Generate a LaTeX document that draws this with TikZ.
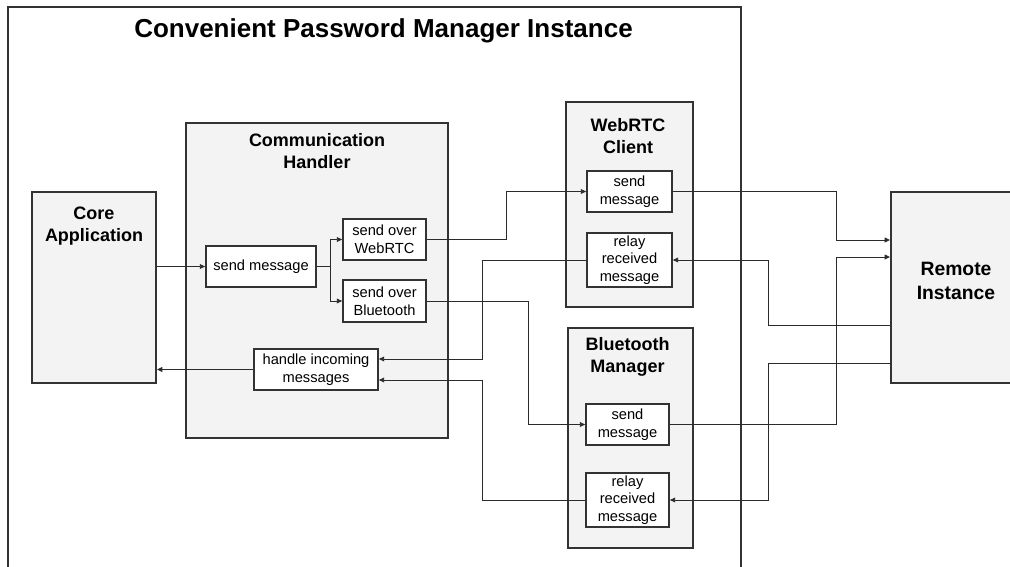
\documentclass[tikz,border=0pt]{standalone}
\usepackage{fontspec}
\setmainfont{Liberation Sans}
\usetikzlibrary{arrows.meta,calc}
\definecolor{edge}{HTML}{333333}
\definecolor{wire}{HTML}{2B2B2B}
\definecolor{panel}{HTML}{F3F3F3}
\begin{document}
\begin{tikzpicture}[x=0.75pt,y=-0.75pt,
  sz/.style 2 args={minimum width=#1*0.75pt, minimum height=#2*0.75pt},
  container/.style={draw=edge, fill=panel, line width=1.5pt, inner sep=0pt},
  stepbox/.style={draw=edge, fill=white, line width=1.3pt, inner sep=0pt,
    align=center, font=\fontsize{11}{13.3}\selectfont},
  heading/.style={font=\bfseries\fontsize{13.5}{16.5}\selectfont, align=center, inner sep=0pt},
  conn/.style={draw=wire, line width=0.7pt, -{Triangle[length=4pt,width=3.6pt]}},
]
\useasboundingbox (0,0) rectangle (1010,567);
\clip (0,0) rectangle (1010,567);

% outer instance frame (runs past the lower edge)
\node[draw=edge, line width=1.5pt, fill=white, sz={733}{600}, inner sep=0pt] (frame) at (374.5,307) {};
\node[font=\bfseries\fontsize{19.5}{22}\selectfont, inner sep=0pt] (title) at (383.5,31) {Convenient Password Manager Instance};

% core application
\node[container, sz={124}{191}] (core) at (94,287.5) {};
\node[heading] (coreT) at (94,226) {Core\\Application};

% communication handler
\node[container, sz={262}{315}] (comm) at (317,280.5) {};
\node[heading] (commT) at (317,151) {Communication\\Handler};
\node[stepbox, sz={110}{41}] (sendmsg) at (261,266.5) {send message};
\node[stepbox, sz={83}{41}] (sowebrtc) at (384.5,239.5) {send over\\WebRTC};
\node[stepbox, sz={83}{42}] (sobt) at (384.5,301) {send over\\Bluetooth};
\node[stepbox, sz={124}{41}] (handle) at (316,369.5) {handle incoming\\messages};

% WebRTC client
\node[container, sz={127}{205}] (webrtc) at (629.5,204.5) {};
\node[heading] (webrtcT) at (628,136.5) {WebRTC\\Client};
\node[stepbox, sz={85}{41}] (wsend) at (629.5,191.5) {send\\message};
\node[stepbox, sz={85}{54}] (wrelay) at (629.5,260) {relay\\received\\message};

% Bluetooth manager
\node[container, sz={125}{220}] (bt) at (630.5,438) {};
\node[heading] (btT) at (627.5,357) {Bluetooth\\Manager};
\node[stepbox, sz={83}{41}] (bsend) at (627.5,424.5) {send\\message};
\node[stepbox, sz={83}{54}] (brelay) at (627.5,500) {relay\\received\\message};

% remote instance (runs past the right edge)
\node[container, sz={130}{191}] (remote) at (956,287.5) {};
\node[heading, font=\bfseries\fontsize{14.5}{18}\selectfont] (remoteT) at (956,281) {Remote\\Instance};

% ports on the handler and the remote instance
\coordinate (hin1) at ($(handle.east)+(0,-10.5)$);
\coordinate (hin2) at ($(handle.east)+(0,10.5)$);
\coordinate (rin1) at ($(remote.west)+(0,-47.5)$);
\coordinate (rin2) at ($(remote.west)+(0,-30.5)$);
\coordinate (rout1) at ($(remote.west)+(0,37.5)$);
\coordinate (rout2) at ($(remote.west)+(0,75.5)$);
\coordinate (split) at (330,0);
\coordinate (busA) at (506,0);
\coordinate (busB) at (528,0);
\coordinate (busC) at (482,0);
\coordinate (busD) at (836,0);
\coordinate (busE) at (768,0);

% outgoing path
\draw[conn] (core.east |- sendmsg.west) -- (sendmsg.west);
\draw[conn] (sendmsg.east) -- (split |- sendmsg.east) |- (sowebrtc.west);
\draw[conn] (split |- sendmsg.east) |- (sobt.west);
\draw[conn] (sowebrtc.east) -- (busA |- sowebrtc.east) |- (wsend.west);
\draw[conn] (sobt.east) -- (busB |- sobt.east) |- (bsend.west);
\draw[conn] (wsend.east) -- (busD |- wsend.east) |- (rin1);
\draw[conn] (bsend.east) -- (busD |- bsend.east) |- (rin2);

% incoming path
\draw[conn] (rout1) -- (busE |- rout1) |- (wrelay.east);
\draw[conn] (rout2) -- (busE |- rout2) |- (brelay.east);
\draw[conn] (wrelay.west) -- (busC |- wrelay.west) |- (hin1);
\draw[conn] (brelay.west) -- (busC |- brelay.west) |- (hin2);
\draw[conn] (handle.west) -- (core.east |- handle.west);
\end{tikzpicture}
\end{document}
